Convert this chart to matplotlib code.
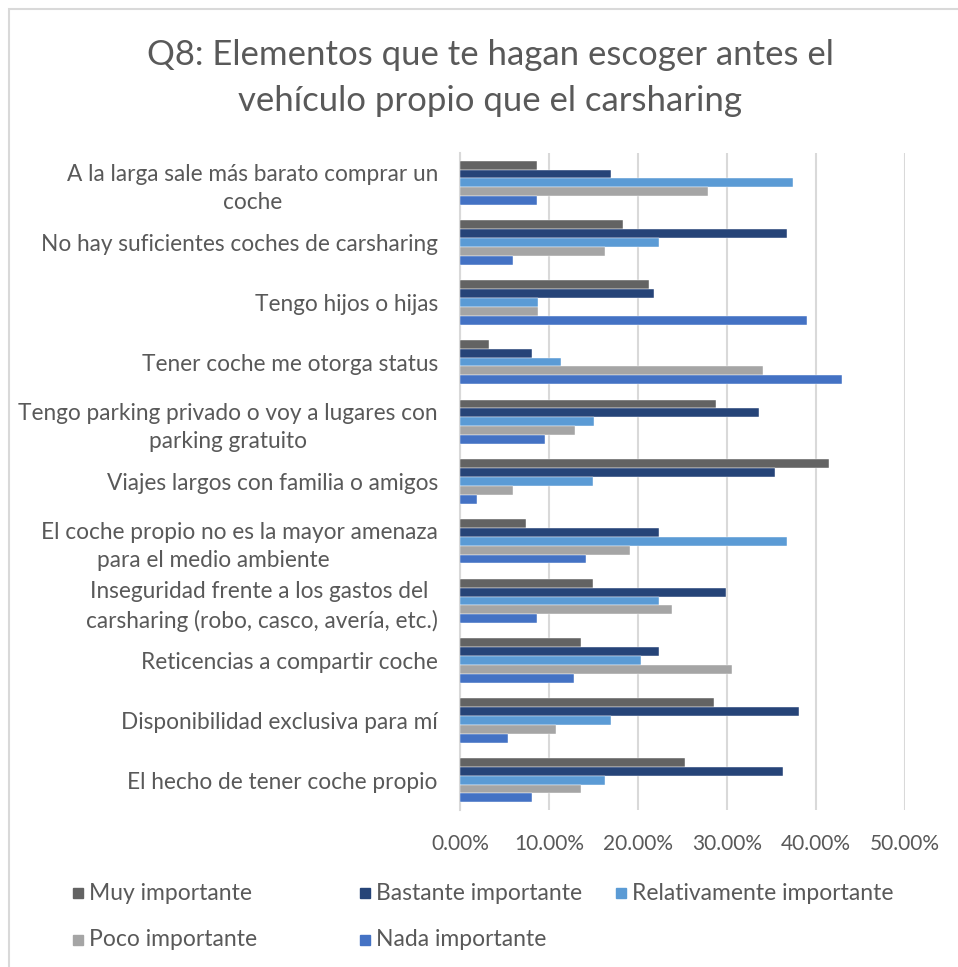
import numpy as np
import matplotlib.pyplot as plt
from matplotlib.patches import Rectangle

plt.rcParams['font.family'] = ['Lato', 'DejaVu Sans']

# Datos: porcentaje de respuestas por elemento y nivel de importancia
categorias = [
    'A la larga sale más barato comprar un\ncoche',
    'No hay suficientes coches de carsharing',
    'Tengo hijos o hijas',
    'Tener coche me otorga status',
    'Tengo parking privado o voy a lugares con\nparking gratuito',
    'Viajes largos con familia o amigos',
    'El coche propio no es la mayor amenaza\npara el medio ambiente         ',
    'Inseguridad frente a los gastos del \ncarsharing (robo, casco, avería, etc.)',
    'Reticencias a compartir coche',
    'Disponibilidad exclusiva para mí',
    'El hecho de tener coche propio',
]
series = ['Muy importante', 'Bastante importante', 'Relativamente importante',
          'Poco importante', 'Nada importante']

muy = [8.7, 18.3, 21.2, 3.3, 28.8, 41.5, 7.4, 14.9, 13.6, 28.5, 25.3]
bastante = [16.95, 36.75, 21.8, 8.1, 33.6, 35.4, 22.4, 29.9, 22.4, 38.1, 36.3]
relativamente = [37.4, 22.4, 8.8, 11.4, 15.0, 14.9, 36.75, 22.4, 20.3, 16.95, 16.3]
poco = [27.9, 16.3, 8.8, 34.0, 12.9, 6.0, 19.05, 23.8, 30.6, 10.8, 13.6]
nada = [8.7, 6.0, 39.0, 42.9, 9.5, 1.95, 14.2, 8.7, 12.8, 5.4, 8.1]

valores = [muy, bastante, relativamente, poco, nada]
colores = ['#636363', '#264478', '#5B9BD5', '#A5A5A5', '#4472C4']
gris = '#595959'

W, H = 958, 967
fig = plt.figure(figsize=(W / 100, H / 100), dpi=100)
fig.patch.set_facecolor('white')

# Marco del gráfico
fig.add_artist(Rectangle((9 / W, -0.1), 1.2, 1 - 9 / H + 0.1, transform=fig.transFigure,
                         fill=False, edgecolor='#d9d9d9', linewidth=1.5))

ax = fig.add_axes([460 / W, 1 - 810 / H, 445 / W, 657 / H])

y = np.arange(len(categorias))
alto = 0.149
for k in range(len(series)):
    ax.barh(y + (k - 2) * alto, valores[k], height=alto, color=colores[k],
            edgecolor='white', linewidth=0.3, label=series[k], zorder=3)

ax.set_xlim(0, 50)
ax.set_ylim(len(categorias) - 0.5, -0.5)
ax.set_xticks(np.arange(0, 51, 10))
ax.set_xticklabels([f'{v:.2f}%' for v in np.arange(0, 51, 10)])
ax.set_yticks(y)
ax.set_yticklabels(categorias, ma='center', linespacing=1.4)
ax.tick_params(axis='x', length=0, labelsize=15, labelcolor=gris, pad=17)
ax.tick_params(axis='y', length=0, labelsize=16.3, labelcolor=gris, pad=16)

ax.grid(axis='x', color='#d9d9d9', linewidth=1.5, zorder=0)
for lado in ['top', 'right', 'bottom']:
    ax.spines[lado].set_visible(False)
ax.spines['left'].set_color('#d9d9d9')
ax.spines['left'].set_linewidth(1.5)

fig.text(490 / W, 1 - 55 / H, 'Q8: Elementos que te hagan escoger antes el',
         ha='center', va='center', fontsize=25, color=gris)
fig.text(490 / W, 1 - 101 / H, 'vehículo propio que el carsharing',
         ha='center', va='center', fontsize=25, color=gris)

# Leyenda en dos filas
pos_leyenda = [(78, 893), (365, 893), (621, 893), (78, 940), (365, 940)]
for k in range(len(series)):
    px, py = pos_leyenda[k]
    fig.add_artist(Rectangle(((px - 5) / W, 1 - (py + 5) / H), 10 / W, 10 / H,
                             transform=fig.transFigure, color=colores[k]))
    fig.text((px + 11) / W, 1 - py / H, series[k], ha='left', va='center',
             fontsize=16.5, color=gris)

fig.savefig('out.png', dpi=100)
